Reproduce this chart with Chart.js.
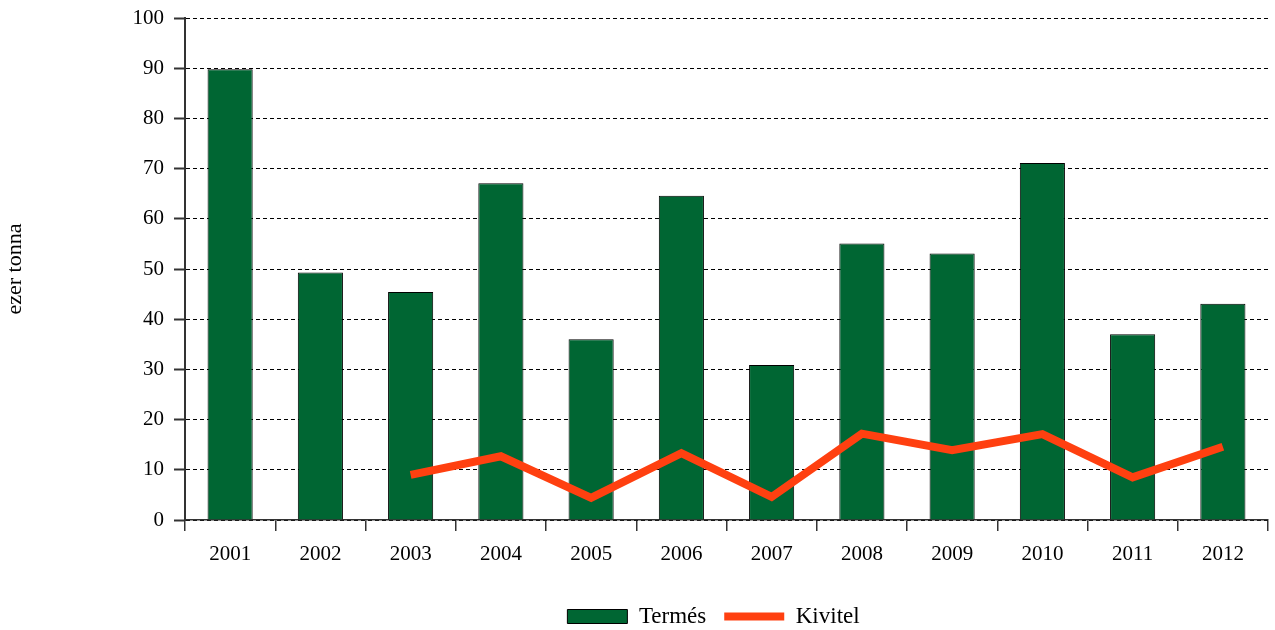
<!DOCTYPE html>
<html>
<head>
<meta charset="utf-8">
<script src="https://cdn.jsdelivr.net/npm/chart.js@4/dist/chart.umd.min.js"></script>
<style>
  body { margin: 0; background: #fff; }
  #box { width: 1275px; height: 630px; }
</style>
</head>
<body>
<div id="box"><canvas id="chart"></canvas></div>
<script>
//years on the x axis
const years = ["2001", "2002", "2003", "2004", "2005", "2006", "2007", "2008", "2009", "2010", "2011", "2012"];
//harvest (bars)
const termes = [89.8, 49.3, 45.4, 67.1, 36, 64.6, 30.9, 55.1, 53.1, 71.1, 37, 43.1];
//export (line), no data for the first two years
const kivitel = [null, null, 9, 12.7, 4.4, 13.3, 4.6, 17.2, 13.9, 17.1, 8.5, 14.6];

const serif = "'Liberation Serif', 'Times New Roman', serif";

//nudge the legend a bit to the left, like in the original
const legendShift = {
  id: "legendShift",
  afterLayout(chart) {
    chart.legend.left -= 13;
    chart.legend.right -= 13;
  },
};

new Chart(document.getElementById("chart"), {
  type: "bar",
  plugins: [legendShift],
  data: {
    labels: years,
    datasets: [
      {
        label: "Termés",
        data: termes,
        backgroundColor: "#006633",
        borderColor: "#000",
        borderWidth: 1,
        barPercentage: 0.5,
        categoryPercentage: 1,
        pointStyle: "rect",
        order: 0,
      },
      {
        type: "line",
        label: "Kivitel",
        data: kivitel,
        borderColor: "#ff4010",
        backgroundColor: "#ff4010",
        borderWidth: 8,
        pointRadius: 0,
        pointStyle: "line",
        tension: 0,
        order: -1,
      },
    ],
  },
  options: {
    responsive: true,
    maintainAspectRatio: false,
    animation: false,
    layout: { padding: { left: 0, right: 7, top: 18, bottom: -8 } },
    plugins: {
      tooltip: { enabled: false },
      legend: {
        position: "bottom",
        fullSize: false,
        labels: {
          usePointStyle: true,
          pointStyleWidth: 60,
          boxHeight: 14,
          padding: 18,
          color: "#000",
          font: { family: serif, size: 23 },
          sort: (a, b) => a.datasetIndex - b.datasetIndex,
        },
      },
    },
    scales: {
      x: {
        offset: true,
        grid: {
          offset: true,
          drawOnChartArea: false,
          color: "#333",
          lineWidth: 1.5,
          tickLength: 11,
        },
        border: { color: "#333", width: 1.5 },
        ticks: { color: "#000", padding: 11, font: { family: serif, size: 21 } },
        afterFit: (scale) => { scale.height = 67; },
      },
      y: {
        min: 0,
        max: 100,
        ticks: { stepSize: 10, color: "#000", padding: 10, font: { family: serif, size: 21 } },
        grid: {
          color: "#000",
          lineWidth: 1,
          tickLength: 11,
          tickColor: "#333",
          tickBorderDash: [],
          tickWidth: 2,
        },
        border: { color: "#333", width: 2, dash: [4, 3] },
        title: {
          display: true,
          text: "ezer tonna",
          color: "#000",
          padding: { top: 2, bottom: 0 },
          font: { family: serif, size: 22 },
        },
        afterFit: (scale) => {
          scale.width = 185;
          scale.paddingTop = 0;
          scale.paddingBottom = 0;
        },
      },
    },
  },
});
</script>
</body>
</html>
